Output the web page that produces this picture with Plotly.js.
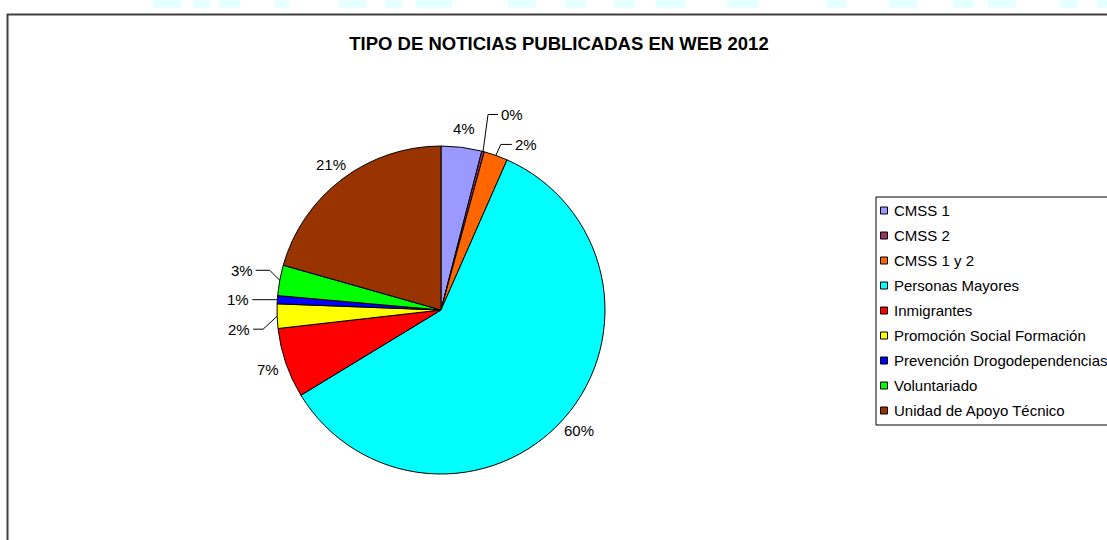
<!DOCTYPE html>
<html>
<head>
<meta charset="utf-8">
<script src="https://cdn.plot.ly/plotly-3.0.1.min.js"></script>
<style>html,body{margin:0;padding:0;background:#fff;}#chart{width:1107px;height:540px;}</style>
</head>
<body>
<div id="chart"></div>
<script>
// ---- data ----
const chartTitle = "TIPO DE NOTICIAS PUBLICADAS EN WEB 2012";
const categories = ["CMSS 1", "CMSS 2", "CMSS 1 y 2", "Personas Mayores", "Inmigrantes",
  "Promoción Social Formación", "Prevención Drogodependencias", "Voluntariado", "Unidad de Apoyo Técnico"];
const values = [4.0, 0.25, 2.35, 59.7, 6.9, 2.4, 0.8, 3.0, 20.6];
const colors = ["#9999FF", "#993366", "#FF6600", "#00FFFF", "#FF0000", "#FFFF00", "#0000FF", "#00FF00", "#993300"];

// ---- layout / style settings (pixels) ----
const W = 1107, H = 540;
const pie = {cx: 441, cy: 310, r: 164};
const labelRadius = 183;
// leader-line label placement for small slices: offsets from the slice's rim point
const leaders = {
  1: {elbow: [5, -37], end: [15, -37]},
  2: {elbow: [5, -11], end: [16, -11]},
  5: {elbow: [-14, 13], end: [-24, 13]},
  6: {elbow: [-2, 0], end: [-25, 0]},
  7: {elbow: [-10, -10], end: [-24, -10]}
};
const legendBox = {x0: 876, y0: 197, x1: 1116, y1: 425, firstY: 210.5, step: 25, sq: 7, sqX: 880.5, textX: 892};
const decor = [[153,182],[193,210],[219,240],[275,289],[339,367],[385,402],[416,452],[508,536],[565,586],[614,635],[656,685],[727,759],[826,847],[889,917],[953,974],[988,1016],[1060,1078],[1097,1107]];
const FONT = "Arial, 'Liberation Sans', sans-serif";

const px = x => x / W;
const py = y => 1 - y / H;

const total = values.reduce((a, b) => a + b, 0);
const shapes = [];
const annotations = [];

// decorative strip at the top
decor.forEach(d => shapes.push({type: 'rect', xref: 'paper', yref: 'paper', x0: px(d[0]), x1: px(d[1]), y0: py(8), y1: py(0), fillcolor: '#e6ffff', line: {width: 0}, layer: 'below'}));

// outer frame (left and top)
shapes.push({type: 'line', xref: 'paper', yref: 'paper', x0: px(7.5), x1: px(7.5), y0: py(14), y1: py(H + 5), line: {color: '#404040', width: 2}});
shapes.push({type: 'line', xref: 'paper', yref: 'paper', x0: px(7), x1: px(W + 5), y0: py(14.5), y1: py(14.5), line: {color: '#404040', width: 2}});

// slice labels
let cum = 0;
values.forEach((v, i) => {
  const mid = (cum + v / 2) / total * 2 * Math.PI;
  cum += v;
  const pct = Math.round(v / total * 100) + '%';
  const fx = R => pie.cx + R * Math.sin(mid);
  const fy = R => pie.cy - R * Math.cos(mid);
  const L = leaders[i];
  if (!L) {
    annotations.push({xref: 'paper', yref: 'paper', x: px(fx(labelRadius)), y: py(fy(labelRadius)), text: pct,
      showarrow: false, xanchor: 'center', yanchor: 'middle', font: {family: FONT, size: 15, color: '#000'}});
  } else {
    const ax = fx(pie.r), ay = fy(pie.r);
    const ex = ax + L.elbow[0], ey = ay + L.elbow[1];
    const tx = ax + L.end[0], ty = ay + L.end[1];
    shapes.push({type: 'path', xref: 'paper', yref: 'paper',
      path: `M ${px(ax)} ${py(ay)} L ${px(ex)} ${py(ey)} L ${px(tx)} ${py(ty)}`,
      line: {color: '#000', width: 1}});
    const right = L.end[0] > 0;
    annotations.push({xref: 'paper', yref: 'paper', x: px(tx + (right ? 1 : -1)), y: py(ty), text: pct,
      showarrow: false, xanchor: right ? 'left' : 'right', yanchor: 'middle', font: {family: FONT, size: 15, color: '#000'}});
  }
});

// legend (custom, to match spacing)
shapes.push({type: 'rect', xref: 'paper', yref: 'paper', x0: px(legendBox.x0), x1: px(legendBox.x1), y0: py(legendBox.y1), y1: py(legendBox.y0),
  line: {color: '#000', width: 1}, fillcolor: 'rgba(0,0,0,0)'});
categories.forEach((c, i) => {
  const yc = legendBox.firstY + i * legendBox.step;
  shapes.push({type: 'rect', xref: 'paper', yref: 'paper',
    x0: px(legendBox.sqX), x1: px(legendBox.sqX + legendBox.sq), y0: py(yc + legendBox.sq / 2), y1: py(yc - legendBox.sq / 2),
    fillcolor: colors[i], line: {color: '#000', width: 1}});
  annotations.push({xref: 'paper', yref: 'paper', x: px(legendBox.textX), y: py(yc), text: c, showarrow: false,
    xanchor: 'left', yanchor: 'middle', font: {family: FONT, size: 15, color: '#000'}});
});

const trace = {
  type: 'pie',
  labels: categories,
  values: values,
  sort: false,
  direction: 'clockwise',
  rotation: 0,
  marker: {colors: colors, line: {color: '#000', width: 1}},
  textinfo: 'none',
  showlegend: false,
  hoverinfo: 'label+percent',
  domain: {x: [px(pie.cx - pie.r), px(pie.cx + pie.r)], y: [py(pie.cy + pie.r), py(pie.cy - pie.r)]}
};

const layout = {
  width: W, height: H,
  margin: {l: 0, r: 0, t: 0, b: 0},
  paper_bgcolor: '#fff',
  plot_bgcolor: '#fff',
  showlegend: false,
  title: {text: '<b>' + chartTitle + '</b>', font: {family: FONT, size: 18.5, color: '#000'},
    x: 559 / W, xanchor: 'center', y: py(44), yanchor: 'middle', xref: 'container', yref: 'container'},
  shapes: shapes,
  annotations: annotations
};

Plotly.newPlot('chart', [trace], layout, {displayModeBar: false, staticPlot: true});
</script>
</body>
</html>
